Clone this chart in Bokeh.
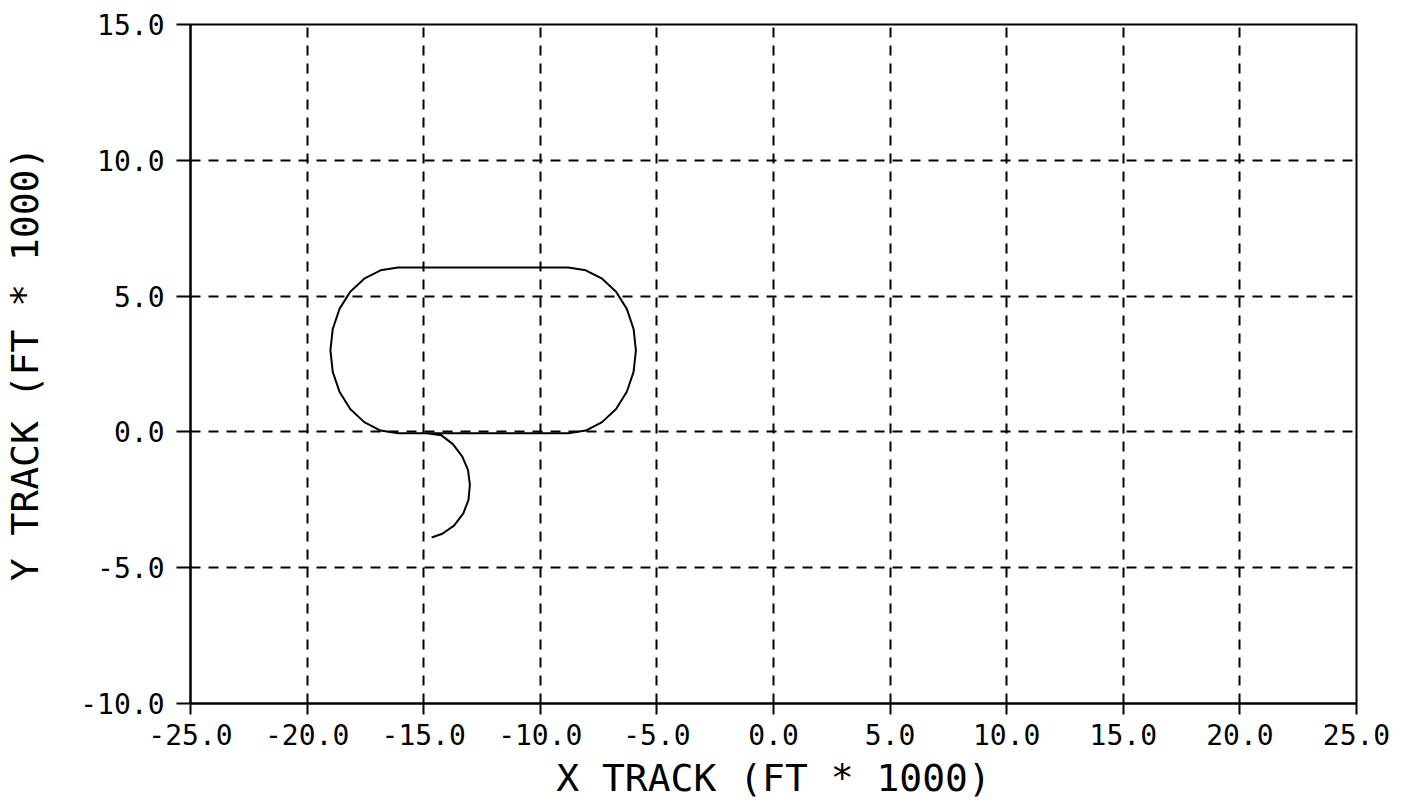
from bokeh.plotting import figure
from bokeh.models import Range1d, FixedTicker, PrintfTickFormatter
from bokeh.embed import file_html
from bokeh.resources import INLINE

# Ground track (thousands of feet)
track_x = [-14.66, -14.2, -13.7, -13.3, -13.08, -13.02, -13.1, -13.35, -13.75, -14.25, -14.87,
           -16.10, -16.85, -17.55, -18.15, -18.61, -18.90, -19.00, -18.90, -18.61, -18.15,
           -17.55, -16.85, -16.10, -8.80, -8.05, -7.35, -6.75, -6.29, -6.00, -5.90, -6.00,
           -6.29, -6.75, -7.35, -8.05, -8.80, -14.90]
track_y = [-3.89, -3.75, -3.45, -3.00, -2.50, -1.95, -1.40, -0.90, -0.45, -0.12, -0.05,
           -0.05, 0.05, 0.36, 0.84, 1.48, 2.21, 3.00, 3.79, 4.53, 5.16,
           5.64, 5.95, 6.05, 6.05, 5.95, 5.64, 5.16, 4.53, 3.79, 3.00, 2.21,
           1.48, 0.84, 0.36, 0.05, -0.05, -0.05]

x_ticks = [-25, -20, -15, -10, -5, 0, 5, 10, 15, 20, 25]
y_ticks = [-10, -5, 0, 5, 10, 15]
x_title = "X TRACK (FT * 1000)"
y_title = "Y TRACK (FT * 1000)"

FONT = "DejaVu Sans Mono"

p = figure(width=1416, height=804, output_backend="svg", toolbar_location=None,
           x_range=Range1d(-25, 25), y_range=Range1d(-10, 15),
           min_border_left=190, min_border_right=60, min_border_top=24, min_border_bottom=101)

p.outline_line_color = "black"
p.outline_line_width = 2
p.background_fill_color = "white"
p.border_fill_color = "white"

for ax, ticks in ((p.xaxis[0], x_ticks), (p.yaxis[0], y_ticks)):
    ax.ticker = FixedTicker(ticks=ticks)
    ax.formatter = PrintfTickFormatter(format="%.1f")
    ax.axis_line_color = "black"
    ax.axis_line_width = 2
    ax.major_tick_line_color = "black"
    ax.major_tick_line_width = 2
    ax.major_tick_in = 0
    ax.minor_tick_line_color = None
    ax.major_label_text_font = FONT
    ax.major_label_text_font_size = "28px"
    ax.major_label_text_color = "black"
    ax.axis_label_text_font = FONT
    ax.axis_label_text_font_size = "38px"
    ax.axis_label_text_font_style = "normal"
    ax.axis_label_text_color = "black"

p.xaxis.axis_label = x_title
p.yaxis.axis_label = y_title
p.xaxis.major_tick_out = 11
p.yaxis.major_tick_out = 14
p.xaxis.major_label_standoff = 9
p.yaxis.major_label_standoff = 12
p.xaxis.axis_label_standoff = 8
p.yaxis.axis_label_standoff = 30

for g, ticks in ((p.xgrid[0], x_ticks), (p.ygrid[0], y_ticks)):
    g.ticker = FixedTicker(ticks=ticks)
    g.grid_line_color = "black"
    g.grid_line_width = 2
    g.grid_line_dash = "10 8"

p.line(track_x, track_y, line_color="black", line_width=2)

open("out.html", "w").write(file_html(p, INLINE))
